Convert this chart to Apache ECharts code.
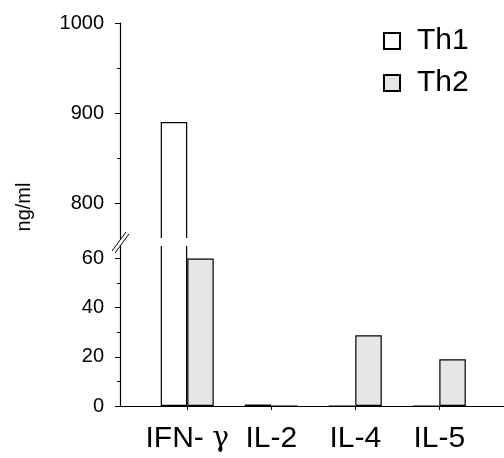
<!DOCTYPE html>
<html>
<head>
<meta charset="utf-8">
<script src="https://cdn.jsdelivr.net/npm/echarts@6/dist/echarts.min.js"></script>
<style>
html,body{margin:0;padding:0;background:#fff;}
#chart{width:504px;height:458px;}
</style>
</head>
<body>
<div id="chart"></div>
<script>
// data
var categories = ['IFN- γ', 'IL-2', 'IL-4', 'IL-5'];
var th1 = [890, 0.6, 0, 0];
var th2 = [60, 0, 28.8, 19];
var upperTicks = [800, 900, 1000];
var upperMinor = [850, 950];
var lowerTicks = [0, 20, 40, 60];
var lowerMinor = [10, 30, 50];
var catIdx = [0, 1, 2, 3];

var font = '"Liberation Sans", Arial, sans-serif';

function pts(arr) {
    return arr.map(function (v, i) { return [i, v]; });
}

var th1Style = {color: '#ffffff', borderColor: '#000', borderWidth: 1.2};
var th2Style = {color: '#e6e6e6', borderColor: '#000', borderWidth: 1.2};

function yAx(grid, min, max, ticks, labels, len, main) {
    return {
        type: 'value', gridIndex: grid, min: min, max: max, position: 'left',
        splitLine: {show: false},
        axisLine: {show: main, onZero: false, lineStyle: {color: '#000', width: 1.2}},
        axisTick: {show: true, length: len, customValues: ticks, lineStyle: {color: '#000', width: 1}},
        axisLabel: {
            show: main, customValues: labels, margin: 16, color: '#000', fontSize: 20, fontFamily: font,
            formatter: function (v) { return String(v); }
        }
    };
}

// gamma drawn in a serif face, like the symbol font of the original
function catLabel(v) {
    var s = categories[v];
    return s.indexOf('γ') >= 0 ? s.replace('γ', '{g|γ}') : s;
}

var chart = echarts.init(document.getElementById('chart'));
var option = {
    animation: false,
    backgroundColor: '#fff',
    grid: [
        {left: 120, right: 0, top: 23, height: 216},
        {left: 120, right: 0, top: 245, height: 161}
    ],
    legend: {
        data: ['Th1', 'Th2'],
        orient: 'vertical',
        left: 378, top: 21,
        icon: 'rect',
        itemWidth: 16, itemHeight: 16, itemGap: 12,
        textStyle: {fontSize: 30, color: '#000', fontFamily: font, padding: [0, 0, 0, 12]}
    },
    xAxis: [
        {type: 'value', gridIndex: 0, min: -0.8, max: 3.77, show: false},
        {
            type: 'value', gridIndex: 1, min: -0.8, max: 3.77,
            splitLine: {show: false},
            axisLine: {onZero: false, lineStyle: {color: '#000', width: 1.2}},
            axisTick: {customValues: catIdx, length: 4, lineStyle: {color: '#000'}},
            axisLabel: {
                customValues: catIdx, margin: 18, color: '#000', fontSize: 30, fontFamily: font,
                formatter: catLabel,
                rich: {g: {fontSize: 28, fontFamily: '"DejaVu Serif", serif', color: '#000'}}
            }
        }
    ],
    yAxis: [
        yAx(0, 760, 1000, upperTicks, upperTicks, 5, true),
        yAx(0, 760, 1000, upperMinor, [], 3, false),
        yAx(1, 0, 65.5, lowerTicks, lowerTicks, 5, true),
        yAx(1, 0, 65.5, lowerMinor, [], 3, false)
    ],
    series: [
        {name: 'Th1', type: 'bar', xAxisIndex: 0, yAxisIndex: 0, data: pts(th1), barWidth: 26.5, barGap: '0%', itemStyle: th1Style},
        {name: 'Th2', type: 'bar', xAxisIndex: 0, yAxisIndex: 0, data: pts(th2), barWidth: 26.5, barGap: '0%', itemStyle: th2Style},
        {name: 'Th1', type: 'bar', xAxisIndex: 1, yAxisIndex: 2, data: pts(th1), barWidth: 26.5, barGap: '0%', itemStyle: th1Style},
        {name: 'Th2', type: 'bar', xAxisIndex: 1, yAxisIndex: 2, data: pts(th2), barWidth: 26.5, barGap: '0%', itemStyle: th2Style}
    ],
    graphic: [
        // white band hiding the break between the two panels
        {type: 'rect', z: 100, shape: {x: 122, y: 238, width: 382, height: 8}, style: {fill: '#fff'}},
        // axis break marks
        {type: 'line', z: 101, shape: {x1: 112, y1: 251, x2: 126, y2: 232}, style: {stroke: '#000', lineWidth: 1}},
        {type: 'line', z: 101, shape: {x1: 115, y1: 253, x2: 129, y2: 234}, style: {stroke: '#000', lineWidth: 1}},
        {type: 'rect', z: 100, shape: {x: 118, y: 239, width: 6, height: 6}, style: {fill: '#fff'}},
        {
            type: 'text', z: 101, x: 24, y: 207, rotation: Math.PI / 2,
            style: {text: 'ng/ml', fontSize: 20, fontFamily: font, fill: '#000', textAlign: 'center', textVerticalAlign: 'middle'}
        }
    ]
};
chart.setOption(option);
window.onresize = chart.resize;
</script>
</body>
</html>
